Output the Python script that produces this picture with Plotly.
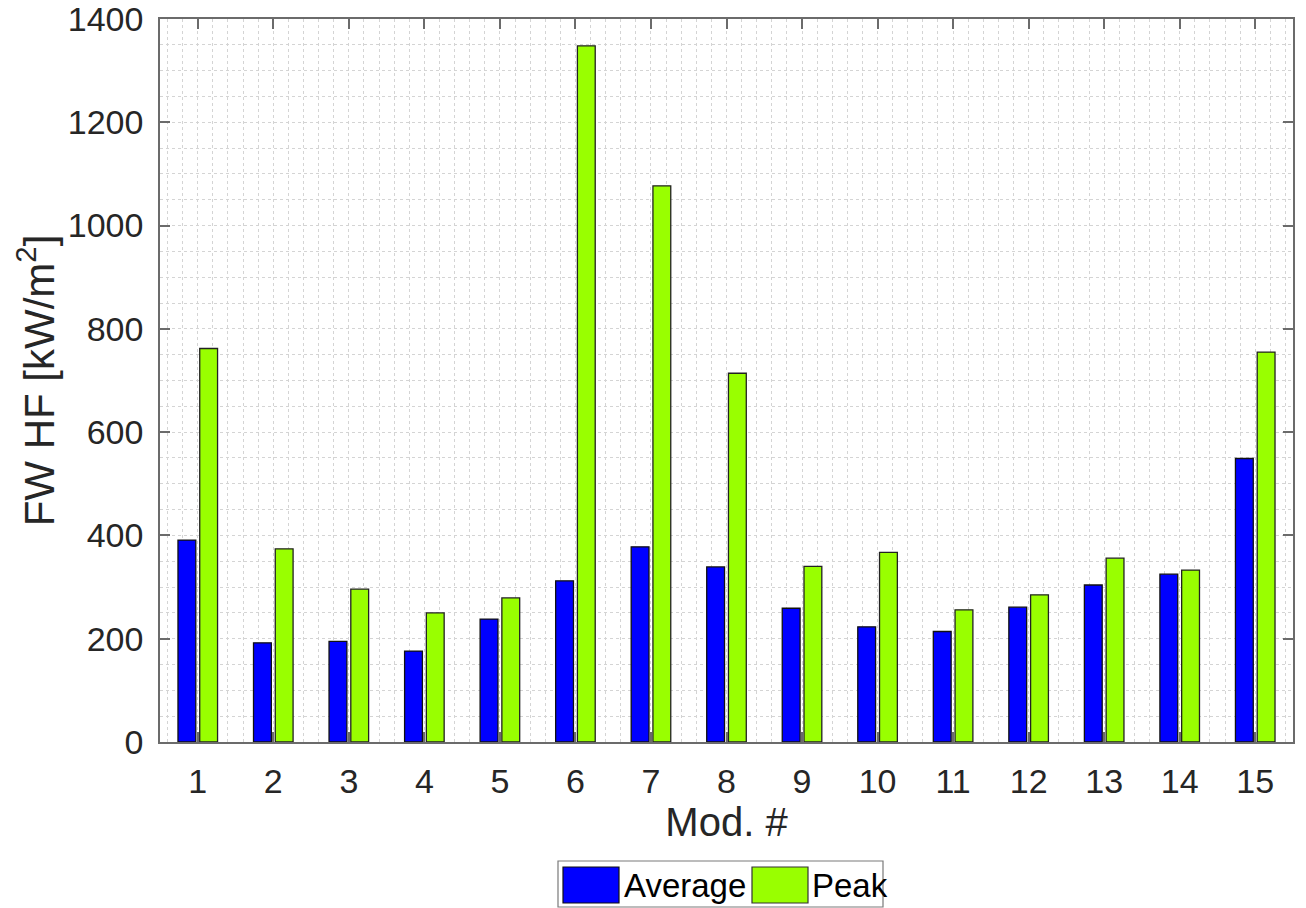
import plotly.graph_objects as go

modules = list(range(1, 16))
average = [391, 192, 195, 176, 238, 312, 378, 339, 259, 223, 214, 261, 304, 325, 549]
peak = [762, 374, 296, 250, 279, 1348, 1077, 714, 340, 367, 256, 285, 356, 333, 755]
y_ticks = [0, 200, 400, 600, 800, 1000, 1200, 1400]

FONT = "Liberation Sans, Arial, Helvetica, sans-serif"
TXT = "#262626"
AX = "#6b6b6b"
GRID = "#d4d4d4"
BLUE = "#0000FF"
GREEN = "#99FF00"

fig = go.Figure()
fig.add_trace(go.Bar(x=modules, y=average, name="Average", width=0.236, offset=-0.262,
                     marker=dict(color=BLUE, line=dict(color="#111111", width=1.3)),
                     showlegend=False))
fig.add_trace(go.Bar(x=modules, y=peak, name="Peak", width=0.236, offset=0.026,
                     marker=dict(color=GREEN, line=dict(color="#222222", width=1.3)),
                     showlegend=False))

fig.update_layout(
    width=1306, height=908,
    margin=dict(l=160, r=13, t=19, b=166, autoexpand=False),
    paper_bgcolor="white", plot_bgcolor="white",
    barmode="overlay",
    font=dict(family=FONT, color=TXT, size=34),
    showlegend=False,
)

fig.update_xaxes(
    range=[0.5, 15.5], tickmode="array", tickvals=modules, ticktext=[str(m) for m in modules],
    showline=True, linecolor=AX, linewidth=1.5, mirror="ticks",
    ticks="inside", ticklen=10, tickcolor=AX, tickwidth=1.5,
    tickfont=dict(size=34, color=TXT), ticklabelstandoff=8, ticklabeloverflow="allow",
    showgrid=True, gridcolor=GRID, griddash="dot", gridwidth=1,
    minor=dict(dtick=0.2, tick0=0, showgrid=True, gridcolor=GRID, griddash="dot", gridwidth=1, ticks=""),
    zeroline=False, automargin=False,
    title=dict(text="Mod. #", font=dict(size=40, color=TXT), standoff=7),
)
fig.update_yaxes(
    range=[0, 1400], tickmode="array", tickvals=y_ticks, ticktext=[str(v) for v in y_ticks],
    showline=True, linecolor=AX, linewidth=1.5, mirror="ticks",
    ticks="inside", ticklen=10, tickcolor=AX, tickwidth=1.5,
    tickfont=dict(size=34, color=TXT), ticklabelstandoff=8, ticklabeloverflow="allow",
    showgrid=True, gridcolor=GRID, griddash="dot", gridwidth=1,
    minor=dict(dtick=50, tick0=0, showgrid=True, gridcolor=GRID, griddash="dot", gridwidth=1, ticks=""),
    zeroline=False, automargin=False,
    title=dict(text="FW HF [kW/m<sup>2</sup>]", font=dict(size=42, color=TXT), standoff=0),
)

# Legend drawn as a boxed key below the plot (paper coordinates)
W, H = 1133.0, 723.0
def px(x):
    return (x - 160) / W
def py(y):
    return (742 - y) / H

shapes = [
    dict(type="rect", xref="paper", yref="paper", x0=px(558), x1=px(883), y0=py(907), y1=py(861),
         line=dict(color="#7a7a7a", width=1.2), fillcolor="white"),
    dict(type="rect", xref="paper", yref="paper", x0=px(563), x1=px(619), y0=py(903), y1=py(867),
         line=dict(color="#111111", width=1.2), fillcolor=BLUE),
    dict(type="rect", xref="paper", yref="paper", x0=px(752), x1=px(808), y0=py(903), y1=py(867),
         line=dict(color="#333333", width=1.2), fillcolor=GREEN),
]
annotations = [
    dict(xref="paper", yref="paper", x=px(622), y=py(885), text="Average", showarrow=False,
         xanchor="left", yanchor="middle", font=dict(size=33, color="#000000", family=FONT)),
    dict(xref="paper", yref="paper", x=px(810), y=py(885), text="Peak", showarrow=False,
         xanchor="left", yanchor="middle", font=dict(size=33, color="#000000", family=FONT)),
]
fig.update_layout(shapes=shapes, annotations=annotations)

fig.write_html("out.html")
